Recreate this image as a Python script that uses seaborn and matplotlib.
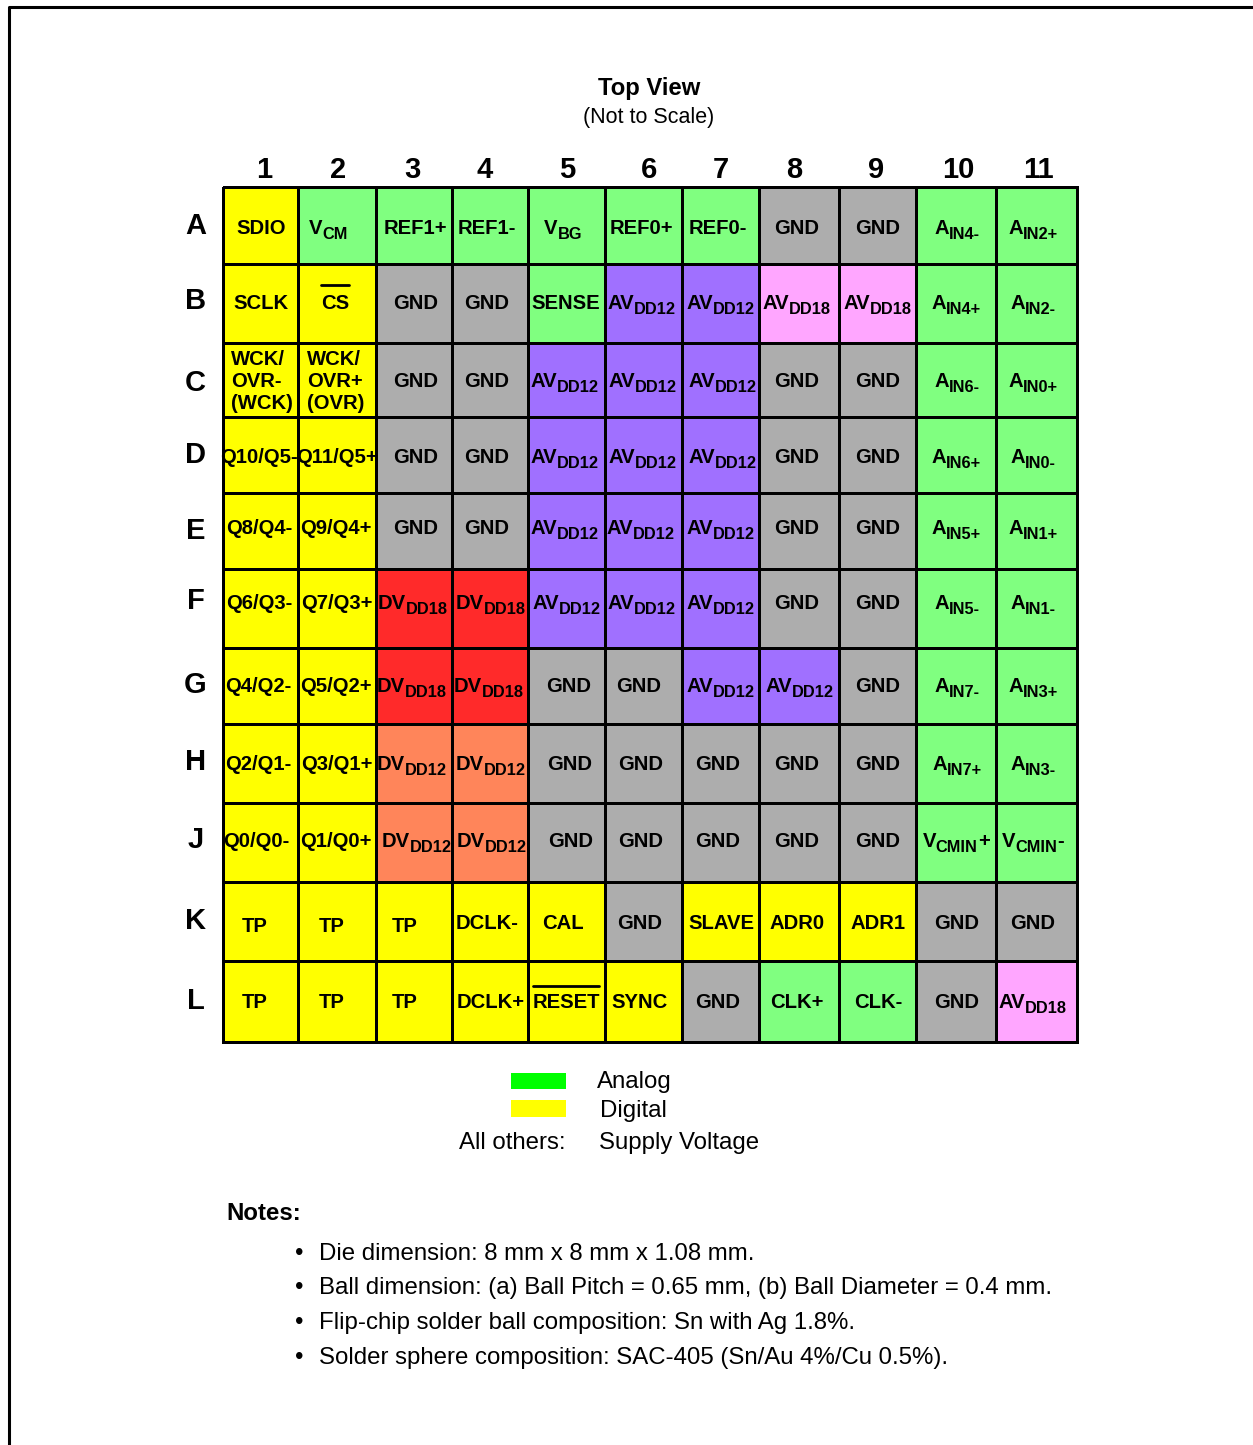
import numpy as np
import pandas as pd
import matplotlib
matplotlib.use('Agg')
import matplotlib.pyplot as plt
from matplotlib.colors import ListedColormap
from matplotlib.lines import Line2D
from matplotlib.patches import Rectangle
from matplotlib.transforms import Affine2D
import seaborn as sns

W, H = 1253, 1445

ROW_NAMES = ['A', 'B', 'C', 'D', 'E', 'F', 'G', 'H', 'J', 'K', 'L']
COL_NAMES = ['1', '2', '3', '4', '5', '6', '7', '8', '9', '10', '11']

# "_" starts a subscript, "|" goes back to normal size
PIN_LABELS = [
    ['SDIO', 'V_CM', 'REF1+', 'REF1-', 'V_BG', 'REF0+', 'REF0-', 'GND', 'GND', 'A_IN4-', 'A_IN2+'],
    ['SCLK', 'CS', 'GND', 'GND', 'SENSE', 'AV_DD12', 'AV_DD12', 'AV_DD18', 'AV_DD18', 'A_IN4+', 'A_IN2-'],
    ['WCK/\nOVR-\n(WCK)', 'WCK/\nOVR+\n(OVR)', 'GND', 'GND', 'AV_DD12', 'AV_DD12', 'AV_DD12', 'GND', 'GND', 'A_IN6-', 'A_IN0+'],
    ['Q10/Q5-', 'Q11/Q5+', 'GND', 'GND', 'AV_DD12', 'AV_DD12', 'AV_DD12', 'GND', 'GND', 'A_IN6+', 'A_IN0-'],
    ['Q8/Q4-', 'Q9/Q4+', 'GND', 'GND', 'AV_DD12', 'AV_DD12', 'AV_DD12', 'GND', 'GND', 'A_IN5+', 'A_IN1+'],
    ['Q6/Q3-', 'Q7/Q3+', 'DV_DD18', 'DV_DD18', 'AV_DD12', 'AV_DD12', 'AV_DD12', 'GND', 'GND', 'A_IN5-', 'A_IN1-'],
    ['Q4/Q2-', 'Q5/Q2+', 'DV_DD18', 'DV_DD18', 'GND', 'GND', 'AV_DD12', 'AV_DD12', 'GND', 'A_IN7-', 'A_IN3+'],
    ['Q2/Q1-', 'Q3/Q1+', 'DV_DD12', 'DV_DD12', 'GND', 'GND', 'GND', 'GND', 'GND', 'A_IN7+', 'A_IN3-'],
    ['Q0/Q0-', 'Q1/Q0+', 'DV_DD12', 'DV_DD12', 'GND', 'GND', 'GND', 'GND', 'GND', 'V_CMIN|+', 'V_CMIN|-'],
    ['TP', 'TP', 'TP', 'DCLK-', 'CAL', 'GND', 'SLAVE', 'ADR0', 'ADR1', 'GND', 'GND'],
    ['TP', 'TP', 'TP', 'DCLK+', 'RESET', 'SYNC', 'GND', 'CLK+', 'CLK-', 'GND', 'AV_DD18'],
]

# D digital, A analog, G ground, P AVDD12, K AVDD18, R DVDD18, O DVDD12
PIN_KINDS = ['DAAAAAAGGAA',
             'DDGGAPPKKAA',
             'DDGGPPPGGAA',
             'DDGGPPPGGAA',
             'DDGGPPPGGAA',
             'DDRRPPPGGAA',
             'DDRRGGPPGAA',
             'DDOOGGGGGAA',
             'DDOOGGGGGAA',
             'DDDDDGDDDGG',
             'DDDDDDGAAGK']
KIND_ORDER = 'DAGPKRO'
KIND_COLORS = ['#FFFF00', '#80FF80', '#ADADAD', '#A070FF', '#FFA6FF', '#FF2A2A', '#FF855A']

NOTES = ['Die dimension: 8 mm x 8 mm x 1.08 mm.',
         'Ball dimension: (a) Ball Pitch = 0.65 mm, (b) Ball Diameter = 0.4 mm.',
         'Flip-chip solder ball composition: Sn with Ag 1.8%.',
         'Solder sphere composition: SAC-405 (Sn/Au 4%/Cu 0.5%).']

# layout, all in picture pixels
X_EDGES = [223.3, 298, 375.7, 452, 527.7, 604.7, 682.5, 759.5, 839.5, 916.5, 996.5, 1077.5]
Y_EDGES = [186.7, 264, 342.7, 416.7, 492.5, 568.5, 647.5, 723.5, 802.5, 881.5, 960.7, 1042.3]
COL_LABEL_X = [264, 338, 412, 485, 567, 649, 721, 794, 876, 958, 1038]
ROW_LABEL_Y = [226, 301, 383, 455, 531, 601, 685, 762, 840, 921, 1001]
ROW_TEXT_Y = [227, 302, 380, 456, 527, 602, 685, 763, 840, 922, 1001]
TEXT_X = [
    [261, 328, 415, 487, 563, 641, 718, 797, 878, 957, 1033],
    [261, 335, 416, 487, 566, 642, 721, 797, 878, 956, 1033],
    [262, 336, 416, 487, 565, 643, 723, 797, 878, 957, 1033],
    [259, 337, 416, 487, 565, 643, 723, 797, 878, 956, 1033],
    [259, 336, 416, 487, 565, 641, 721, 797, 878, 956, 1033],
    [259, 337, 413, 491, 567, 642, 721, 797, 878, 957, 1033],
    [258, 336, 412, 489, 569, 639, 721, 800, 878, 957, 1033],
    [258, 337, 412, 491, 570, 641, 718, 797, 878, 957, 1033],
    [256, 336, 417, 492, 571, 641, 718, 797, 878, 956, 1033],
    [255, 332, 405, 487, 563, 640, 721, 797, 878, 957, 1033],
    [255, 332, 405, 491, 566, 640, 718, 797, 878, 957, 1033],
]

sns.set_theme(style='white')
plt.rcParams['font.family'] = ['Liberation Sans', 'DejaVu Sans']

fig = plt.figure(figsize=(W / 100, H / 100), dpi=100)
px = Affine2D().scale(1, -1).translate(0, H)  # y down, like the picture

ax = fig.add_axes([X_EDGES[0] / W, 1 - Y_EDGES[-1] / H,
                   (X_EDGES[-1] - X_EDGES[0]) / W, (Y_EDGES[-1] - Y_EDGES[0]) / H])

codes = pd.DataFrame([[KIND_ORDER.index(k) for k in row] for row in PIN_KINDS],
                     index=ROW_NAMES, columns=COL_NAMES)
sns.heatmap(codes, ax=ax, cmap=ListedColormap(KIND_COLORS), vmin=-0.5, vmax=len(KIND_ORDER) - 0.5,
            cbar=False, linewidths=1.95, linecolor='black', square=False)
ax.collections[0].set_clip_on(False)

# cells are not all the same size
steps = np.arange(12)
ax.set_xscale('function', functions=(lambda v: np.interp(v, steps, X_EDGES),
                                     lambda v: np.interp(v, X_EDGES, steps)))
ax.set_yscale('function', functions=(lambda v: np.interp(v, steps, Y_EDGES),
                                     lambda v: np.interp(v, Y_EDGES, steps)))
ax.set_xlim(0, 11)
ax.set_ylim(11, 0)

ax.set_xticks(np.interp(COL_LABEL_X, X_EDGES, steps), COL_NAMES, fontsize=21, fontweight='bold', rotation=0)
ax.set_yticks(np.interp(ROW_LABEL_Y, Y_EDGES, steps), ROW_NAMES, fontsize=21, fontweight='bold',
              rotation=0, ha='center', va='center')
ax.xaxis.tick_top()
ax.tick_params(axis='x', which='both', length=0, pad=2.2, colors='black')
ax.tick_params(axis='y', which='both', length=0, pad=20, colors='black')
ax.minorticks_off()
ax.set_xlabel('')
ax.set_ylabel('')


def put(x, y, s, size, weight='normal', ha='left', va='baseline'):
    return fig.text(x, y, s, transform=px, fontsize=size, fontweight=weight, ha=ha, va=va, color='black')


renderer = fig.canvas.get_renderer()


def text_width(t):
    return t.get_window_extent(renderer).width


def draw_pin(label, cx, cy):
    size, sub_size = 14.6, 11.8
    baseline = cy + 7
    if '\n' in label:
        lines = label.split('\n')
        pieces = [put(0, baseline - 22 + 22 * i, line, size, 'bold') for i, line in enumerate(lines)]
        left = cx - max(text_width(p) for p in pieces) / 2
        for p in pieces:
            p.set_x(left)
        return
    main, _, rest = label.partition('_')
    sub, _, tail = rest.partition('|')
    pieces = [put(0, baseline, main, size, 'bold')]
    if sub:
        pieces.append(put(0, baseline + 5, sub, sub_size, 'bold'))
    if tail:
        pieces.append(put(0, baseline, tail, size, 'bold'))
    x = cx - sum(text_width(p) for p in pieces) / 2
    for p in pieces:
        p.set_x(x)
        x += text_width(p)


for r, row in enumerate(PIN_LABELS):
    for c, label in enumerate(row):
        # the TP pins sit a little lower than the rest of their row
        draw_pin(label, TEXT_X[r][c], ROW_TEXT_Y[r] + (3 if label == 'TP' and r == 9 else 0))

# active low bars
for x0, x1, y in [(321, 349, 285), (533, 599, 985.5)]:
    fig.add_artist(Line2D([x0, x1], [y, y], transform=px, color='black', lw=2))

# page frame
fig.add_artist(Line2D([9, 9, W], [H, 7, 7], transform=px, color='black', lw=2.2))

put(649, 89, 'Top View', 17.2, 'bold', ha='center', va='center')
put(649, 118, '(Not to Scale)', 15.5, ha='center', va='center')

# legend
fig.add_artist(Rectangle((511, 1073), 55, 16, transform=px, color='#00FF00', lw=0))
fig.add_artist(Rectangle((511, 1100), 55, 17, transform=px, color='#FFFF00', lw=0))
put(597, 1088, 'Analog', 17.25)
put(600, 1117, 'Digital', 17.25)
put(459, 1149, 'All others:', 17.25)
put(599, 1149, 'Supply Voltage', 17.25)

put(226, 1220, 'Notes:', 17.25, 'bold')
for y, note in zip([1260, 1294, 1329, 1364], NOTES):
    put(295, y, '\u2022', 17.25)
    put(319, y, note, 17.25)

fig.savefig('out.png', dpi=100)
